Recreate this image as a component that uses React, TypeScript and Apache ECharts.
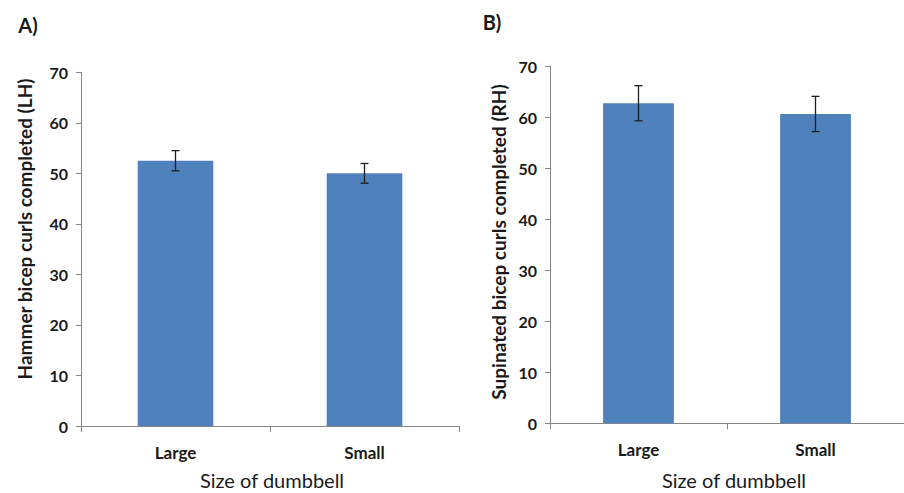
import React, { useEffect, useRef } from "react";
import * as echarts from "echarts";

const categories = ["Large", "Small"];
const hammerMeans = [52.5, 50.0];
const hammerErrors = [2.0, 1.95];
const supinatedMeans = [62.7, 60.6];
const supinatedErrors = [3.45, 3.45];
const yTicks = { min: 0, max: 70, interval: 10 };

const FONT = "Lato";
const AXIS_COLOR = "#868686";
const TEXT_COLOR = "#1a1a1a";
const BAR_COLOR = "#4F81BD";

function errorData(means: number[], errs: number[]) {
  return means.map((m, i) => [i, m - errs[i], m + errs[i]]);
}

function renderError(params: any, api: any) {
  const x = api.value(0);
  const lo = api.coord([x, api.value(1)]);
  const hi = api.coord([x, api.value(2)]);
  const hw = 4;
  const style = { stroke: "#1f1f1f", lineWidth: 1.3 };
  return {
    type: "group",
    children: [
      { type: "line", shape: { x1: lo[0], y1: lo[1], x2: hi[0], y2: hi[1] }, style },
      { type: "line", shape: { x1: hi[0] - hw, y1: hi[1], x2: hi[0] + hw, y2: hi[1] }, style },
      { type: "line", shape: { x1: lo[0] - hw, y1: lo[1], x2: lo[0] + hw, y2: lo[1] }, style },
    ],
  };
}

export default function App() {
  const ref = useRef<HTMLDivElement>(null);
  useEffect(() => {
    document.body.style.margin = "0";
    const chart = echarts.init(ref.current!, null, { renderer: "svg" });
    const xAxisBase = (gridIndex: number) => ({
      type: "category",
      gridIndex,
      data: categories,
      axisLine: { show: true, lineStyle: { color: AXIS_COLOR, width: 1 } },
      axisTick: { show: true, alignWithLabel: false, length: 6, lineStyle: { color: AXIS_COLOR } },
      axisLabel: { color: TEXT_COLOR, fontFamily: FONT, fontWeight: "bold", fontSize: 17, margin: 18 },
      splitLine: { show: false },
    });
    const yAxisBase = (gridIndex: number) => ({
      type: "value",
      gridIndex,
      min: yTicks.min,
      max: yTicks.max,
      interval: yTicks.interval,
      axisLine: { show: true, lineStyle: { color: AXIS_COLOR, width: 1 } },
      axisTick: { show: true, length: 5, lineStyle: { color: AXIS_COLOR } },
      axisLabel: { color: TEXT_COLOR, fontFamily: FONT, fontWeight: "bold", fontSize: 16, margin: 13 },
      splitLine: { show: false },
    });
    const titleStyle = (text: string, size: number, bold: boolean) => ({
      text,
      fill: TEXT_COLOR,
      font: `${bold ? "bold " : ""}${size}px ${FONT}`,
      textAlign: "center",
      textVerticalAlign: "middle",
    });
    chart.setOption({
      animation: false,
      backgroundColor: "#ffffff",
      grid: [
        { left: 81, top: 72.3, width: 378, height: 353.7 },
        { left: 550, top: 66, width: 362, height: 357.3 },
      ],
      xAxis: [xAxisBase(0), xAxisBase(1)],
      yAxis: [yAxisBase(0), yAxisBase(1)],
      series: [
        {
          type: "bar",
          xAxisIndex: 0,
          yAxisIndex: 0,
          data: hammerMeans,
          barWidth: "40%",
          itemStyle: { color: BAR_COLOR },
        },
        {
          type: "custom",
          xAxisIndex: 0,
          yAxisIndex: 0,
          data: errorData(hammerMeans, hammerErrors),
          renderItem: renderError,
          z: 5,
        },
        {
          type: "bar",
          xAxisIndex: 1,
          yAxisIndex: 1,
          data: supinatedMeans,
          barWidth: "40%",
          itemStyle: { color: BAR_COLOR },
        },
        {
          type: "custom",
          xAxisIndex: 1,
          yAxisIndex: 1,
          data: errorData(supinatedMeans, supinatedErrors),
          renderItem: renderError,
          z: 5,
        },
      ],
      graphic: [
        { type: "text", x: 28, y: 25, style: titleStyle("A)", 20, true) },
        { type: "text", x: 492, y: 22, style: titleStyle("B)", 20, true) },
        { type: "text", x: 24, y: 229, rotation: Math.PI / 2, style: titleStyle("Hammer bicep curls completed (LH)", 19, true) },
        { type: "text", x: 498, y: 242, rotation: Math.PI / 2, style: titleStyle("Supinated bicep curls completed (RH)", 19, true) },
        { type: "text", x: 272, y: 480, style: titleStyle("Size of dumbbell", 20, false) },
        { type: "text", x: 734, y: 480, style: titleStyle("Size of dumbbell", 20, false) },
      ],
    });
    return () => chart.dispose();
  }, []);
  return <div ref={ref} style={{ width: 904, height: 493 }} />;
}
